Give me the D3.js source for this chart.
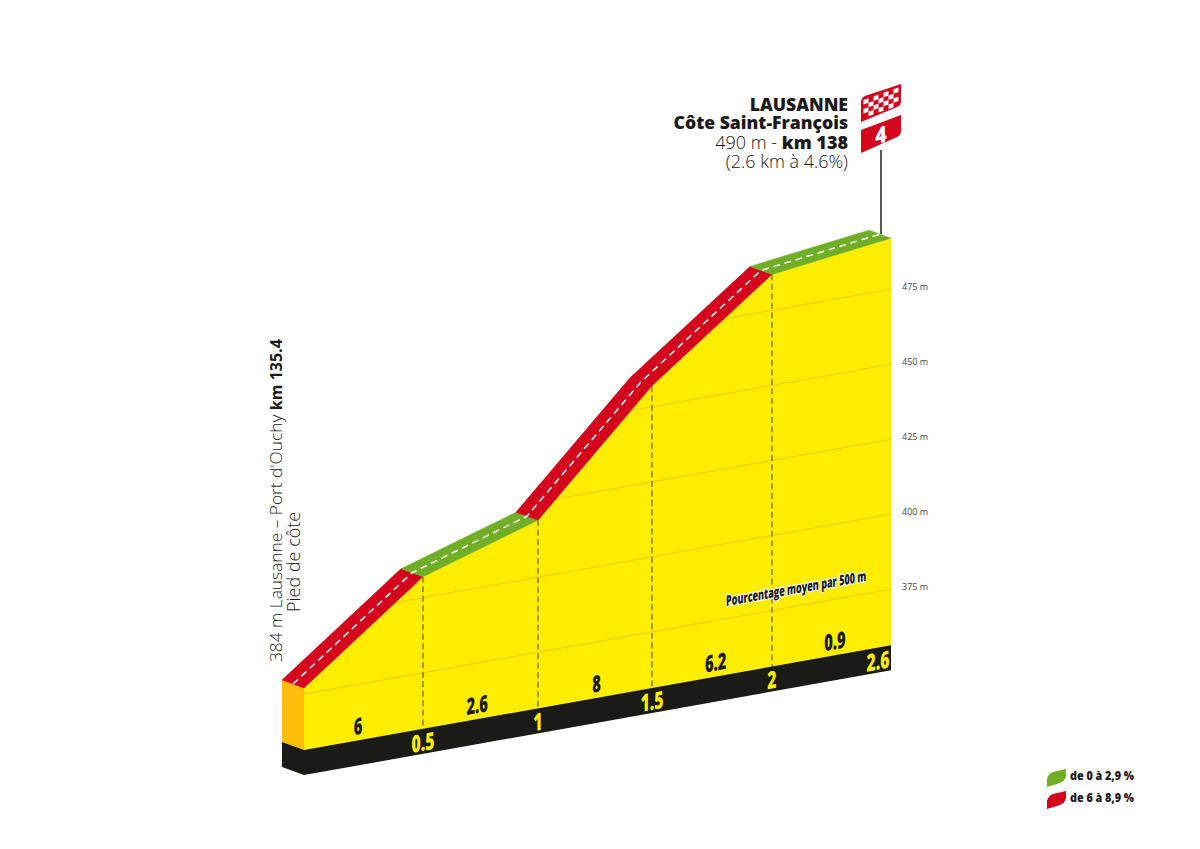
<!DOCTYPE html>
<html>
<head>
<meta charset="utf-8">
<script src="https://cdn.jsdelivr.net/npm/d3@7"></script>
<style>
html, body { margin: 0; padding: 0; background: #fff; }
svg { display: block; font-family: "Open Sans", sans-serif; }
</style>
</head>
<body>
<div id="chartDiv"></div>
<script>
// values
var kms = [0, 0.5, 1, 1.5, 2, 2.6];
var elevations = [377, 407, 419, 457, 487, 492];
var percents = [6, 2.6, 8, 6.2, 0.9];
var kmLabels = ["0.5", "1", "1.5", "2", "2.6"];
var gridElevations = [375, 400, 425, 450, 475];
var legendLabels = ["de 0 à 2,9 %", "de 6 à 8,9 %"];

var green = "#6fae25", red = "#d3041b", yellow = "#ffed00", orange = "#ffbc0a", black = "#1a1a17";
var slope = 0.1786, depthX = -22, depthY = -8, baseElev = 356.3, baseHeight = 25;

var svg = d3.select("#chartDiv")
    .append("svg")
    .attr("width", 1200)
    .attr("height", 849);

//km -> x, the last 600 m are drawn as wide as the 500 m blocks
var xKm = d3.scaleLinear().domain(kms).range([304, 423, 538, 652, 772, 891]);
var yElev = d3.scaleLinear().domain([375, 475]).range([694, 394]);
//percent labels are evenly spaced along the band
var xPct = d3.scaleLinear().domain([0, percents.length - 1]).range([358, 835]);

function skew(x) { return (x - xKm(0)) * slope; }
function pt(km, elev) {
    var x = xKm(km);
    return [x, yElev(elev) - skew(x)];
}
function back(p) { return [p[0] + depthX, p[1] + depthY]; }
var line = d3.line();
var top_ = kms.map(function(k, i) { return pt(k, elevations[i]); });
var end = kms[kms.length - 1];

// side of the block
var base0 = pt(0, baseElev);
svg.append("path")
    .attr("d", line([back(top_[0]), top_[0], base0, back(base0)]) + "Z")
    .attr("fill", orange);
svg.append("path")
    .attr("d", line([back(base0), base0, [base0[0], base0[1] + baseHeight], [base0[0] + depthX, base0[1] + depthY + baseHeight]]) + "Z")
    .attr("fill", black);

// yellow face
var faceLine = line(top_.concat([pt(end, baseElev), pt(0, baseElev)])) + "Z";
svg.append("path").attr("d", faceLine).attr("fill", yellow);
svg.append("clipPath").attr("id", "faceClip").append("path").attr("d", faceLine);

var grid = svg.append("g").attr("clip-path", "url(#faceClip)");
grid.selectAll("path")
    .data(gridElevations)
    .enter().append("path")
    .attr("d", function(e) { return line([pt(0, e), pt(end, e)]); })
    .attr("fill", "none")
    .attr("stroke", "#eec900")
    .attr("stroke-width", 1);

svg.selectAll(".gridLabel")
    .data(gridElevations)
    .enter().append("text")
    .attr("class", "gridLabel")
    .attr("x", pt(end, 0)[0] + 11)
    .attr("y", function(e) { return pt(end, e)[1] + 0.5; })
    .attr("font-size", 9)
    .attr("fill", "#444")
    .text(function(e) { return e + " m"; });

// km separators
svg.selectAll(".sep")
    .data(kms.slice(1, -1))
    .enter().append("path")
    .attr("class", "sep")
    .attr("d", function(k, i) { return line([top_[i + 1], pt(k, baseElev)]); })
    .attr("stroke", "#4a4618")
    .attr("stroke-width", 1)
    .attr("stroke-dasharray", "6,3.5");

// black km band
var bandTop = [pt(0, baseElev), pt(end, baseElev)];
svg.append("path")
    .attr("d", line([bandTop[0], bandTop[1], [bandTop[1][0], bandTop[1][1] + baseHeight], [bandTop[0][0], bandTop[0][1] + baseHeight]]) + "Z")
    .attr("fill", black);

// road, one block per 500 m
svg.selectAll(".road")
    .data(percents)
    .enter().append("path")
    .attr("class", "road")
    .attr("d", function(p, i) {
        return line([top_[i], top_[i + 1], back(top_[i + 1]), back(top_[i])]) + "Z";
    })
    .attr("fill", function(p) { return p >= 6 ? red : green; })
    .attr("stroke", function(p) { return p >= 6 ? red : green; })
    .attr("stroke-width", 0.5);
svg.append("path")
    .attr("d", line(top_.map(function(p) { return [p[0] + depthX / 2, p[1] + depthY / 2]; })))
    .attr("fill", "none")
    .attr("stroke", "#fff")
    .attr("stroke-width", 1.5)
    .attr("stroke-dasharray", "7,4.5");

// texts lying along the slope
function slant(x, y, sx) {
    return "translate(" + x + "," + y + ") skewY(-10.1) scale(" + sx + ",1)";
}
svg.selectAll(".pct")
    .data(percents)
    .enter().append("text")
    .attr("class", "pct")
    .attr("transform", function(p, i) {
        var x = xPct(i);
        return slant(x, pt(0, baseElev)[1] - skew(x) - 6, 0.64);
    })
    .attr("text-anchor", "middle")
    .attr("font-size", 23)
    .attr("font-weight", 800)
    .attr("fill", black)
    .text(function(p) { return p; });

svg.selectAll(".kmLabel")
    .data(kmLabels)
    .enter().append("text")
    .attr("class", "kmLabel")
    .attr("transform", function(d, i) {
        var x = xKm(kms[i + 1]);
        if (i === kmLabels.length - 1) x -= 13;
        return slant(x, pt(0, baseElev)[1] - skew(x) + 22, 0.66);
    })
    .attr("text-anchor", "middle")
    .attr("font-size", 24)
    .attr("font-weight", 800)
    .attr("fill", yellow)
    .text(function(d) { return d; });

svg.append("text")
    .attr("transform", slant(726, 606, 0.62))
    .attr("font-size", 14.5)
    .attr("font-weight", 800)
    .attr("fill", black)
    .attr("stroke", "#fff")
    .attr("stroke-width", 2.5)
    .attr("stroke-linejoin", "round")
    .attr("paint-order", "stroke")
    .text("Pourcentage moyen par 500 m");

// summit text
var title = svg.append("g")
    .attr("text-anchor", "end")
    .attr("fill", "#1a1a1a");
title.append("text").attr("x", 848).attr("y", 111).attr("font-size", 17.6).attr("font-weight", 800).text("LAUSANNE");
title.append("text").attr("x", 848).attr("y", 129).attr("font-size", 17.6).attr("font-weight", 800).text("Côte Saint-François");
var t3 = title.append("text").attr("x", 848).attr("y", 149).attr("font-size", 18).attr("font-weight", 400);
t3.append("tspan").attr("font-weight", 300).text("490 m - ");
t3.append("tspan").attr("font-weight", 800).text("km 138");
title.append("text").attr("x", 848).attr("y", 168).attr("font-size", 18).attr("font-weight", 300).text("(2.6 km à 4.6%)");

// foot text
var foot = svg.append("g").attr("fill", "#1a1a1a");
var f1 = foot.append("text")
    .attr("transform", "translate(282,662) rotate(-90)")
    .attr("font-size", 17.3)
    .attr("font-weight", 300);
f1.append("tspan").text("384 m Lausanne – Port d'Ouchy ");
f1.append("tspan").attr("font-size", 16).attr("font-weight", 700).text("km 135.4");
foot.append("text")
    .attr("transform", "translate(300,612) rotate(-90)")
    .attr("font-size", 18)
    .attr("font-weight", 300)
    .text("Pied de côte");

// pole and flags
var poleX = 881;
svg.append("line")
    .attr("x1", poleX).attr("x2", poleX)
    .attr("y1", 150).attr("y2", 234)
    .attr("stroke", "#222")
    .attr("stroke-width", 1.5);

svg.append("path")
    .attr("d", "M861,102 Q861,98 865,96 L901,84 L901,101 Q901,105 897,107 L861,122 Z")
    .attr("fill", red);
var checker = svg.append("g")
    .attr("transform", "matrix(1,-0.36,0,1,863.5,100)");
d3.range(4).forEach(function(r) {
    d3.range(7).forEach(function(c) {
        if ((r + c) % 2 === 0) {
            checker.append("rect")
                .attr("x", c * 5)
                .attr("y", r * 4.5)
                .attr("width", 5)
                .attr("height", 4.5)
                .attr("fill", "#fff");
        }
    });
});
svg.append("path")
    .attr("d", "M861,130 L901,115 L901,131 Q901,135 897,137 L861,153 Z")
    .attr("fill", red);
svg.append("text")
    .attr("transform", "translate(881,143) skewY(-10) scale(0.85,1)")
    .attr("text-anchor", "middle")
    .attr("font-size", 23)
    .attr("font-weight", 800)
    .attr("fill", "#fff")
    .text("4");

// legend
var legend = svg.selectAll(".legend")
    .data(legendLabels)
    .enter().append("g")
    .attr("class", "legend")
    .attr("transform", function(d, i) { return "translate(1047," + (769 + i * 22) + ")"; });
legend.append("path")
    .attr("d", "M0,18 L0,10 Q1,5 6,3 L19,0 L19,7 Q18,12 13,14 Z")
    .attr("fill", function(d, i) { return i === 0 ? green : red; });
legend.append("text")
    .attr("transform", "translate(23,11) scale(0.83,1)")
    .attr("font-size", 13)
    .attr("font-weight", 800)
    .attr("fill", "#1a1a1a")
    .text(function(d) { return d; });
</script>
</body>
</html>
